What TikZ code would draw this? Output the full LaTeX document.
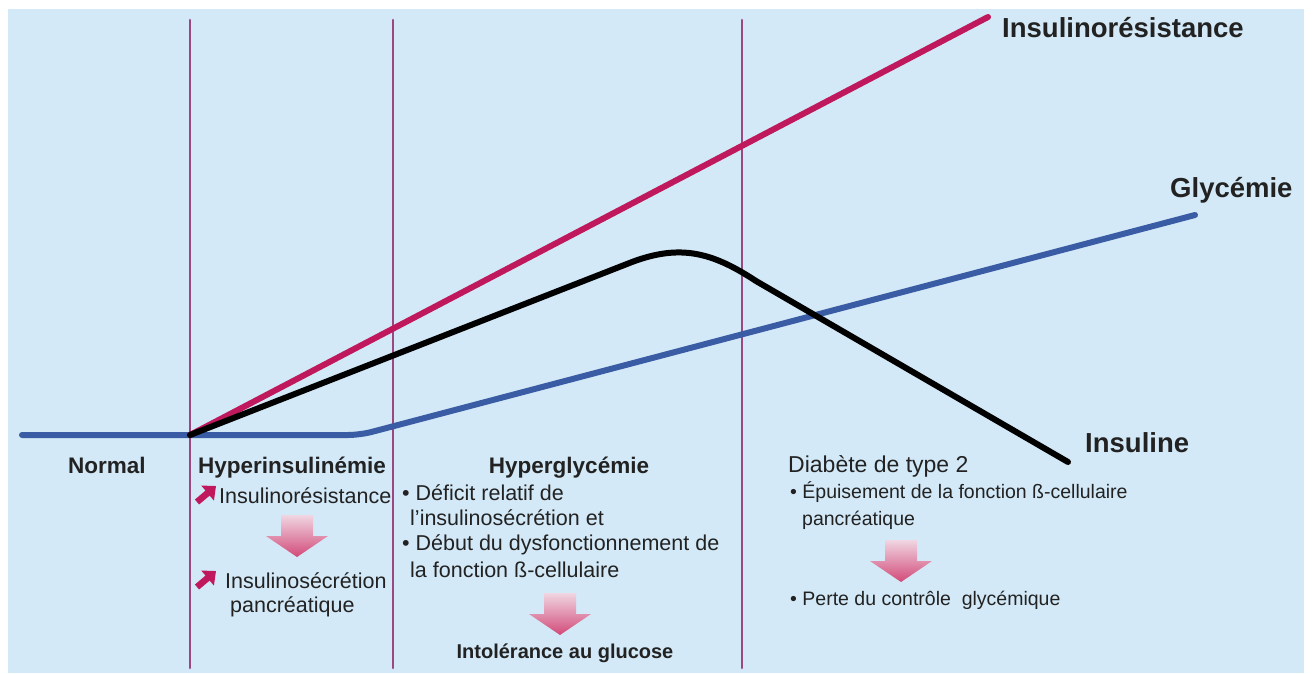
\documentclass[tikz,border=0pt]{standalone}
\usepackage{fontspec}
\setmainfont{Liberation Sans}
\usepackage{tikz}
\usetikzlibrary{arrows.meta, calc}
\definecolor{bgBlue}{RGB}{211,233,247}
\definecolor{resRed}{RGB}{192,24,92}
\definecolor{glyBlue}{RGB}{58,92,165}
\definecolor{sepPurple}{RGB}{155,72,130}
\definecolor{txtGray}{RGB}{34,34,34}
\definecolor{arrowTop}{RGB}{240,214,226}
\definecolor{arrowPink}{RGB}{210,74,120}

% pink block arrow pointing down, #1 = top centre
\newcommand{\downblock}[1]{%
  \shade[top color=arrowTop, bottom color=arrowPink] (#1) ++(-16,0) -- ++(32,0) -- ++(0,21) -- ++(15,0) -- ++(-31,21) -- ++(-31,-21) -- ++(15,0) -- cycle;}

\begin{document}
\begin{tikzpicture}[x=1pt, y=-1pt, line cap=round,
    body/.style={font=\fontsize{21.5}{25}\selectfont, text=txtGray, inner sep=0, anchor=base west},
    small/.style={body, font=\fontsize{19.5}{23}\selectfont},
    head/.style={font=\bfseries\fontsize{22.5}{26}\selectfont, text=txtGray, inner sep=0, anchor=base},
    curvelab/.style={font=\bfseries\fontsize{27.5}{32}\selectfont, text=txtGray, inner sep=0, anchor=base west},
    upicon/.style={resRed, line width=6.5pt, line cap=butt, -{Triangle[length=11pt, width=19pt]}}]
    \useasboundingbox (0,0) rectangle (1313,673);
    \fill[bgBlue] (8,9) rectangle (1304,673);

    % stage borders
    \foreach \x in {190, 393, 742}
        \draw[sepPurple, line width=2.6pt] (\x,20) -- (\x,668);

    \coordinate (O) at (190,435);
    % glycemia
    \coordinate (g0) at (22,435);
    \coordinate (g1) at (360,435);
    \coordinate (g2) at (1195,215);
    % insulin resistance
    \coordinate (r1) at (988,17);
    % insulin
    \coordinate (i1) at (632,262);
    \coordinate (i2) at (756,281);
    \coordinate (i3) at (1068,462);

    \draw[glyBlue, line width=6pt, rounded corners=12pt] (g0) -- (g1) -- (g2);
    \draw[resRed, line width=6pt] (O) -- (r1);
    \draw[black, line width=6pt] (O) -- (i1) .. controls (680,244) and (712,252) .. (i2) -- (i3);

    \node[curvelab] (labRes) at (1002,37) {Insulinorésistance};
    \node[curvelab] (labGly) at (1170,197) {Glycémie};
    \node[curvelab] (labIns) at (1085,452) {Insuline};

    % stage titles
    \node[head] (stNormal) at (107,473) {Normal};
    \node[head] (stHyperins) at (292,473) {Hyperinsulinémie};
    \node[head] (stHypergly) at (569,473) {Hyperglycémie};
    \node[head, font=\fontsize{23}{26}\selectfont, anchor=base west] (stDiab) at (788,472) {Diabète de type 2};

    % hyperinsulinemia
    \node[body] (t1) at (219,503) {Insulinorésistance};
    \draw[upicon] ([shift={(-22,-1)}]t1.base west) -- ++(19,-16);
    \downblock{297,515}
    \node[body] (t2) at (225,588) {Insulinosécrétion};
    \draw[upicon] ([shift={(-28,-1)}]t2.base west) -- ++(19,-16);
    \node[body] (t3) at (230,612) {pancréatique};

    % hyperglycemia
    \node[body] (h1) at (402,500) {• Déficit relatif de};
    \node[body] (h2) at (410,525) {l'insulinosécrétion et};
    \node[body] (h3) at (402,550) {• Début du dysfonctionnement de};
    \node[body] (h4) at (410,577) {la fonction ß-cellulaire};
    \downblock{560,593}
    \node[head, font=\bfseries\fontsize{20}{24}\selectfont] (h5) at (565,658) {Intolérance au glucose};

    % type 2 diabetes
    \node[small] (d1) at (790,498) {• Épuisement de la fonction ß-cellulaire};
    \node[small] (d2) at (802,525) {pancréatique};
    \downblock{901,540}
    \node[small] (d3) at (790,605) {• Perte du contrôle \ glycémique};
\end{tikzpicture}
\end{document}
